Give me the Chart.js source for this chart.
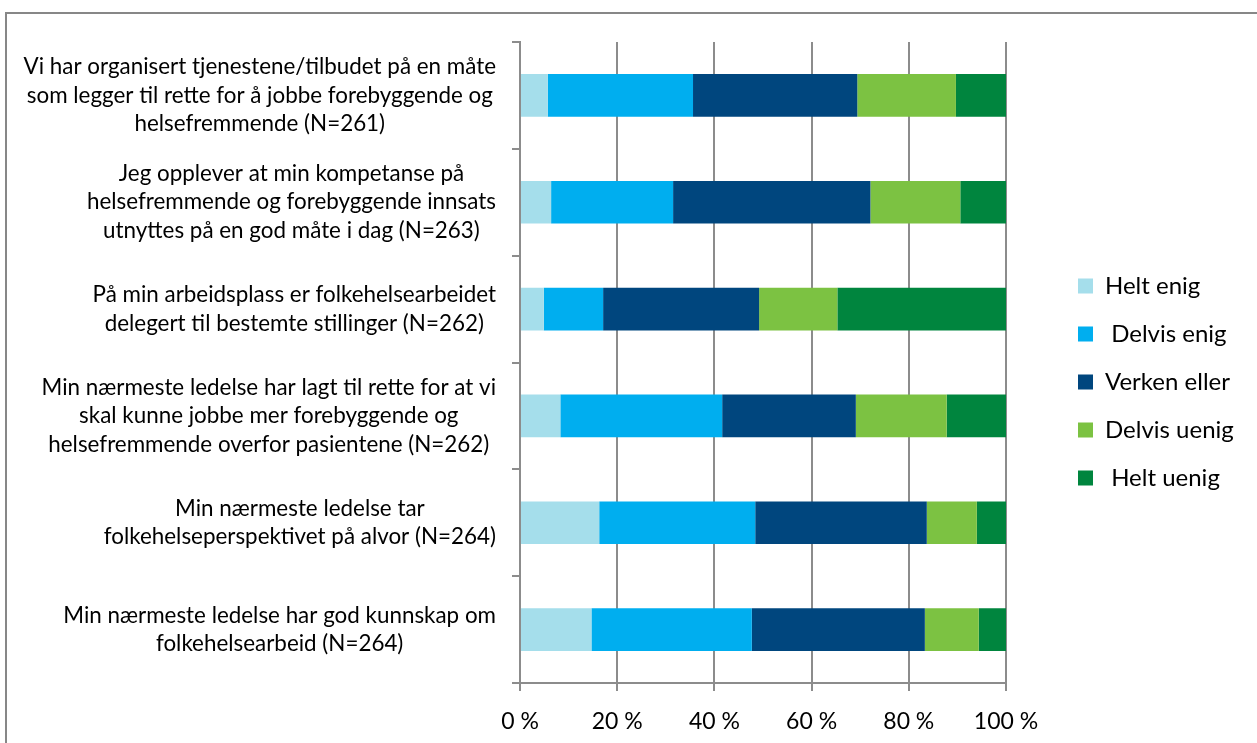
<!DOCTYPE html>
<html>
<head>
<meta charset="utf-8">
<script src="https://cdn.jsdelivr.net/npm/chart.js@4.4.1/dist/chart.umd.min.js"></script>
<style>
  html, body { margin: 0; padding: 0; background: #fff; }
  #wrap { position: relative; width: 1257px; height: 743px; overflow: hidden; }
  #ramme { position: absolute; left: 5px; top: 12px; width: 1300px; height: 800px;
           border-left: 2px solid #878787; border-top: 2px solid #878787; }
  #graf { position: absolute; left: 0; top: 0; }
</style>
</head>
<body>
<div id="wrap">
  <div id="ramme"></div>
  <canvas id="graf" width="1257" height="743"></canvas>
</div>
<script>
// Utsagn (kategorier), en linje per element slik de er brutt i figuren
const utsagn = [
  ['Vi har organisert tjenestene/tilbudet på en måte', 'som legger til rette for å jobbe forebyggende og', 'helsefremmende (N=261)'],
  ['Jeg opplever at min kompetanse på', 'helsefremmende og forebyggende innsats', 'utnyttes på en god måte i dag (N=263)'],
  ['På min arbeidsplass er folkehelsearbeidet', 'delegert til bestemte stillinger (N=262)'],
  ['Min nærmeste ledelse har lagt til rette for at vi', 'skal kunne jobbe mer forebyggende og', 'helsefremmende overfor pasientene (N=262)'],
  ['Min nærmeste ledelse tar', 'folkehelseperspektivet på alvor (N=264)'],
  ['Min nærmeste ledelse har god kunnskap om', 'folkehelsearbeid (N=264)']
];

// Andeler i prosent
const heltEnig    = [5.7, 6.4, 4.9, 8.3, 16.3, 14.7];
const delvisEnig  = [29.9, 25.1, 12.2, 33.3, 32.1, 33.0];
const verkenEller = [33.8, 40.6, 32.1, 27.5, 35.3, 35.6];
const delvisUenig = [20.3, 18.5, 16.1, 18.7, 10.3, 11.1];
const heltUenig   = [10.3, 9.4, 34.7, 12.2, 6.0, 5.6];

const serieNavn = ['Helt enig', ' Delvis enig', 'Verken eller', 'Delvis uenig', ' Helt uenig'];
const xEtiketter = ['0 %', '20 %', '40 %', '60 %', '80 %', '100 %'];

const farger = {
  heltEnig: '#A5DEEB',
  delvisEnig: '#00AEEF',
  verkenEller: '#00467E',
  delvisUenig: '#7CC242',
  heltUenig: '#00853E'
};

const skrift = 'Lato';
const linjeAvstand = 28.5;
const grå = '#8C8C8C';

// Tegner y-etikettene: blokken høyrejustert mot aksen, linjene sentrert i blokken
const yEtiketter = {
  id: 'yEtiketter',
  afterDraw(chart) {
    const ctx = chart.ctx;
    const skala = chart.scales.y;
    ctx.save();
    ctx.font = '22.4px "' + skrift + '"';
    ctx.fillStyle = '#000';
    ctx.textAlign = 'center';
    ctx.textBaseline = 'middle';
    utsagn.forEach((linjer, i) => {
      const midtY = skala.getPixelForValue(i);
      const bredest = Math.max(...linjer.map(l => ctx.measureText(l).width));
      const midtX = skala.right - 24 - bredest / 2;
      linjer.forEach((l, j) => {
        ctx.fillText(l, midtX, midtY + (j - (linjer.length - 1) / 2) * linjeAvstand);
      });
    });
    ctx.restore();
  }
};

// Flytter legenden bort fra plottet, som i originalen
const flyttLegende = {
  id: 'flyttLegende',
  afterLayout(chart) {
    const lg = chart.legend;
    lg.left += 48;
    lg.right += 48;
    lg.top -= 10.5;
    lg.bottom -= 10.5;
  }
};

const lagSerie = (navn, data, farge) => ({
  label: navn,
  data: data,
  backgroundColor: farge,
  borderWidth: 0,
  barPercentage: 0.4,
  categoryPercentage: 1
});

new Chart(document.getElementById('graf'), {
  type: 'bar',
  data: {
    labels: utsagn.map(l => l.join(' ')),
    datasets: [
      lagSerie(serieNavn[0], heltEnig, farger.heltEnig),
      lagSerie(serieNavn[1], delvisEnig, farger.delvisEnig),
      lagSerie(serieNavn[2], verkenEller, farger.verkenEller),
      lagSerie(serieNavn[3], delvisUenig, farger.delvisUenig),
      lagSerie(serieNavn[4], heltUenig, farger.heltUenig)
    ]
  },
  options: {
    indexAxis: 'y',
    responsive: false,
    animation: false,
    layout: { padding: { left: 0, top: 42, right: 0, bottom: 0 } },
    plugins: {
      legend: {
        position: 'right',
        labels: {
          boxWidth: 15,
          boxHeight: 15,
          padding: 24,
          color: '#000',
          font: { family: skrift, size: 24 }
        }
      },
      tooltip: { enabled: false }
    },
    scales: {
      x: {
        stacked: true,
        min: 0,
        max: 100,
        ticks: {
          stepSize: 20,
          padding: 17,
          color: '#000',
          font: { family: skrift, size: 23 },
          callback: v => xEtiketter[v / 20]
        },
        grid: { color: grå, lineWidth: 2, tickLength: 8 },
        border: { color: grå, width: 2 },
        afterFit(scale) {
          scale.height = 60;
          scale.paddingRight = 1257 - 1006;
        }
      },
      y: {
        stacked: true,
        ticks: { display: false },
        grid: { drawOnChartArea: false, offset: true, tickLength: 8, color: grå, lineWidth: 2 },
        border: { color: grå, width: 2 },
        afterFit(scale) {
          scale.width = 520;
        }
      }
    }
  },
  plugins: [yEtiketter, flyttLegende]
});
</script>
</body>
</html>
